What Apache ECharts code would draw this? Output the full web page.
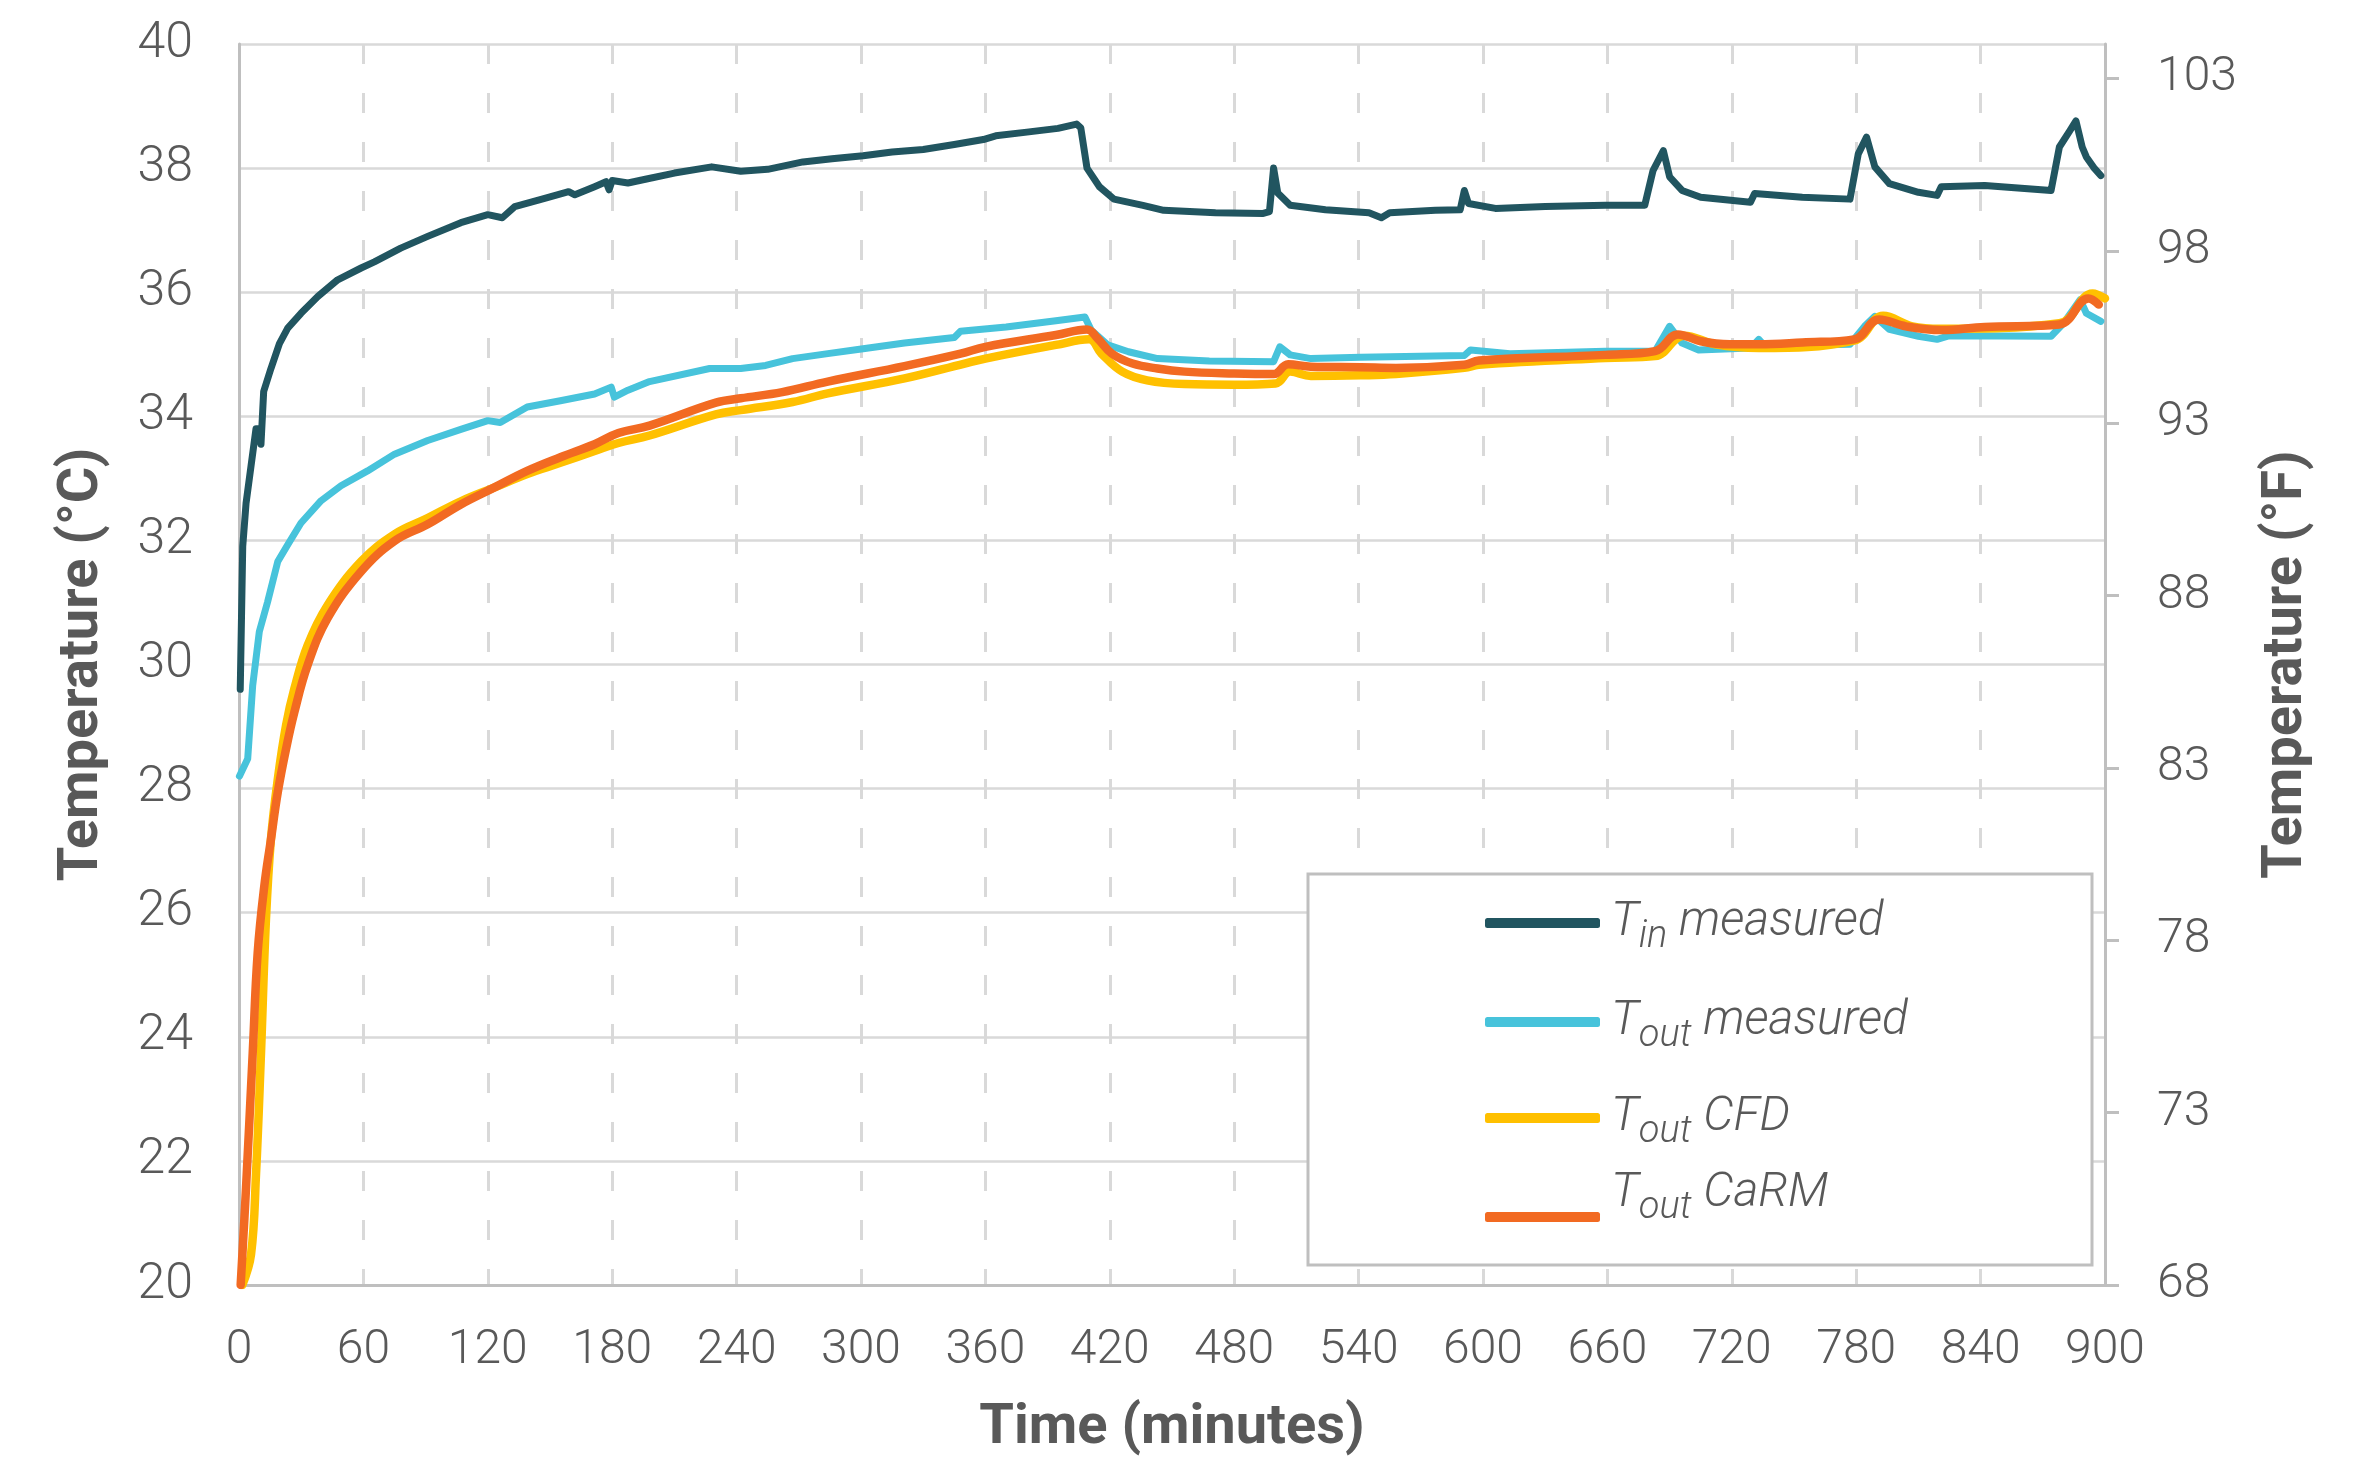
<!DOCTYPE html>
<html>
<head>
<meta charset="utf-8">
<script src="https://cdn.jsdelivr.net/npm/echarts@6.0.0/dist/echarts.min.js"></script>
<style>
    html, body { margin: 0; padding: 0; background: #fff; }
    #chart { width: 2375px; height: 1457px; }
</style>
</head>
<body>
<div id="chart"></div>
<script>
    // values: [minutes, °C]
    var tinMeasured = [[0.6, 29.6], [1.8, 31.9], [3.4, 32.6], [5.8, 33.2], [8.2, 33.8], [9.5, 33.8], [10.6, 33.55], [11.9, 34.4],
        [15.4, 34.77], [19.5, 35.17], [23.5, 35.42], [29.9, 35.66], [38, 35.93], [47.6, 36.2], [58.9, 36.39], [65.3, 36.49],
        [78, 36.71], [91, 36.9], [107, 37.12], [120, 37.25], [127, 37.2], [133, 37.38], [147, 37.51], [159, 37.62], [162, 37.57],
        [171.5, 37.7], [177, 37.78], [178.5, 37.65], [180, 37.8], [187.6, 37.76], [196, 37.82], [210, 37.92], [228, 38.02],
        [242, 37.95], [255, 37.98], [272, 38.1], [286, 38.15], [301, 38.2], [315, 38.26], [330, 38.3], [345, 38.38], [359, 38.46],
        [365, 38.52], [380, 38.58], [395, 38.64], [404, 38.71], [406, 38.65], [409, 38.0], [415, 37.7], [422, 37.5], [436, 37.4],
        [446, 37.32], [471, 37.28], [494, 37.27], [497, 37.3], [499, 38.0], [501, 37.6], [507, 37.4], [524, 37.33], [545, 37.28],
        [551, 37.2], [555, 37.28], [577, 37.32], [589, 37.33], [591, 37.64], [593, 37.43], [606, 37.35], [630, 37.38], [659, 37.4],
        [678, 37.4], [682, 37.96], [687, 38.28], [690, 37.86], [696, 37.64], [705, 37.53], [729, 37.45], [731, 37.59], [754, 37.53],
        [777, 37.5], [781, 38.23], [785, 38.5], [789, 38.02], [796, 37.75], [810, 37.61], [819, 37.56], [821, 37.7], [842, 37.72],
        [874, 37.64], [878, 38.34], [883, 38.6], [886, 38.76], [889, 38.34], [891, 38.18], [895, 37.99], [898, 37.88]];

    var toutMeasured = [[0.2, 28.2], [4.2, 28.48], [6.6, 29.66], [9.8, 30.53], [13.8, 31.01], [18.7, 31.66], [23.5, 31.93],
        [29.9, 32.28], [39.6, 32.64], [49.2, 32.88], [62, 33.12], [75, 33.39], [91, 33.61], [107, 33.79], [120, 33.93], [126, 33.9],
        [139, 34.15], [155, 34.25], [171.5, 34.36], [179.5, 34.47], [181, 34.31], [187.6, 34.42], [198, 34.56], [227, 34.77],
        [242, 34.77], [254, 34.82], [267, 34.93], [284, 35.01], [301, 35.09], [321, 35.18], [345, 35.27], [348, 35.37], [370, 35.44],
        [394, 35.54], [408, 35.6], [411, 35.39], [419, 35.15], [429, 35.04], [443, 34.93], [468, 34.89], [499, 34.88], [502, 35.12],
        [507, 34.99], [517, 34.93], [541, 34.95], [591, 34.98], [594, 35.07], [613, 35.01], [659, 35.05], [683, 35.05], [690, 35.45],
        [696, 35.18], [704, 35.07], [729, 35.1], [733, 35.24], [736, 35.13], [777, 35.16], [784, 35.45], [789, 35.61], [796, 35.4],
        [810, 35.29], [819, 35.24], [825, 35.3], [874, 35.29], [880, 35.5], [888, 35.88], [891, 35.66], [898, 35.53]];

    var toutCFD = [[1.6, 20.0], [5.8, 20.49], [8.2, 21.78], [10.6, 23.73], [13, 25.89], [15.4, 27.18], [18.7, 28.15], [22.7, 29.02],
        [26.7, 29.61], [33.1, 30.31], [42.8, 30.96], [58.9, 31.66], [75, 32.1], [91, 32.36], [107, 32.63], [123, 32.85], [139, 33.07],
        [155, 33.25], [171.5, 33.44], [183, 33.57], [198, 33.69], [230, 34.03], [242, 34.1], [267, 34.23], [284, 34.37], [321, 34.61],
        [350, 34.85], [360, 34.93], [394, 35.15], [410, 35.24], [416, 35.01], [426, 34.72], [438, 34.58], [456, 34.52], [480, 34.51],
        [500, 34.53], [507, 34.72], [517, 34.65], [541, 34.66], [558, 34.68], [591, 34.78], [598, 34.83], [659, 34.94], [683, 34.97],
        [697, 35.3], [712, 35.16], [733, 35.1], [779, 35.22], [793, 35.62], [807, 35.45], [821, 35.41], [878, 35.5], [894, 35.98],
        [900, 35.9]];

    var toutCaRM = [[0.8, 20.0], [3.4, 21.57], [6.6, 23.73], [9, 25.35], [12.2, 26.43], [15.4, 27.18], [18.7, 27.94], [22.7, 28.64],
        [26.7, 29.23], [33.1, 29.99], [42.8, 30.75], [58.9, 31.5], [75, 31.99], [91, 32.26], [107, 32.58], [123, 32.85], [139, 33.12],
        [155, 33.34], [171.5, 33.55], [183, 33.73], [198, 33.85], [230, 34.22], [242, 34.29], [262, 34.39], [284, 34.56], [321, 34.81],
        [348, 35.01], [360, 35.12], [394, 35.31], [409, 35.4], [414, 35.26], [421, 35.01], [431, 34.85], [443, 34.77], [456, 34.72],
        [480, 34.69], [499, 34.68], [506, 34.84], [517, 34.8], [541, 34.79], [558, 34.78], [591, 34.83], [598, 34.9], [659, 34.99],
        [683, 35.05], [694, 35.32], [705, 35.21], [719, 35.16], [733, 35.16], [754, 35.19], [779, 35.24], [791, 35.56], [804, 35.45],
        [821, 35.39], [842, 35.44], [878, 35.48], [892, 35.9], [897, 35.8]];

    var fahrenheitTicks = [68, 73, 78, 83, 88, 93, 98, 103];
    var seriesNames = ['Tin measured', 'Tout measured', 'Tout CFD', 'Tout CaRM'];
    var legendLabels = {
        'Tin measured': '{a|T}{s|in}{t| measured}',
        'Tout measured': '{a|T}{s|out}{t| measured}',
        'Tout CFD': '{a|T}{s|out}{t| CFD}',
        'Tout CaRM': '{a2|T}{s2|out}{t2| CaRM}'
    };
    var colors = ['#215560', '#47c3db', '#ffc000', '#f26a22'];

    var textColor = '#595959';
    var font = 'Roboto';

    var richText = {
        a: {fontSize: 48, lineHeight: 56, fontStyle: 'italic', fontWeight: 300, color: textColor, fontFamily: font, padding: [0, 0, 0, 6]},
        t: {fontSize: 48, lineHeight: 56, fontStyle: 'italic', fontWeight: 300, color: textColor, fontFamily: font},
        s: {fontSize: 38, lineHeight: 38, fontStyle: 'italic', fontWeight: 300, color: textColor, fontFamily: font, padding: [28, 0, 0, 0]},
        a2: {fontSize: 48, lineHeight: 56, fontStyle: 'italic', fontWeight: 300, color: textColor, fontFamily: font, padding: [0, 0, 46, 6]},
        t2: {fontSize: 48, lineHeight: 56, fontStyle: 'italic', fontWeight: 300, color: textColor, fontFamily: font, padding: [0, 0, 46, 0]},
        s2: {fontSize: 38, lineHeight: 38, fontStyle: 'italic', fontWeight: 300, color: textColor, fontFamily: font, padding: [28, 0, 46, 0]}
    };

    // one legend per entry so the rows can sit where they do in the figure
    var legendTops = [890, 989, 1085, 1161];
    var legends = seriesNames.map(function (name, i) {
        return {
            data: [name],
            left: 1485,
            top: legendTops[i],
            orient: 'vertical',
            itemWidth: 115,
            itemHeight: 10,
            icon: 'roundRect',
            selectedMode: false,
            padding: 0,
            formatter: function (n) { return legendLabels[n]; },
            textStyle: {rich: richText}
        };
    });

    function lineSeries(name, data, color, width, smooth) {
        return {
            name: name,
            type: 'line',
            data: data,
            showSymbol: false,
            symbol: 'none',
            smooth: smooth,
            lineStyle: {color: color, width: width, cap: 'round', join: 'round'},
            itemStyle: {color: color},
            z: 5
        };
    }

    var chart = echarts.init(document.getElementById('chart'));
    var option = {
        animation: false,
        backgroundColor: '#fff',
        grid: {left: 239, right: 270, top: 44, bottom: 172, containLabel: false, outerBoundsMode: 'none'},
        legend: legends,
        graphic: [{
            type: 'rect',
            z: 3,
            shape: {x: 1308, y: 874, width: 784, height: 391},
            style: {fill: '#fff', stroke: '#bfbfbf', lineWidth: 3}
        }],
        xAxis: {
            type: 'value',
            min: 0,
            max: 900,
            interval: 60,
            name: 'Time (minutes)',
            nameLocation: 'middle',
            nameGap: 116,
            nameTextStyle: {fontSize: 56, fontWeight: 'bold', color: textColor, fontFamily: font},
            axisLine: {show: true, lineStyle: {color: '#bfbfbf', width: 3}},
            axisTick: {show: false},
            axisLabel: {fontSize: 48, fontWeight: 300, color: textColor, fontFamily: font, margin: 42},
            splitLine: {show: true, lineStyle: {color: '#d9d9d9', width: 3, type: [20, 29]}}
        },
        yAxis: [{
            type: 'value',
            min: 20,
            max: 40,
            interval: 2,
            position: 'left',
            name: 'Temperature (°C)',
            nameLocation: 'middle',
            nameRotate: 90,
            nameGap: 128,
            nameTextStyle: {fontSize: 56, fontWeight: 'bold', color: textColor, fontFamily: font},
            axisLine: {show: true, lineStyle: {color: '#bfbfbf', width: 3}},
            axisTick: {show: false},
            axisLabel: {fontSize: 50, fontWeight: 300, color: textColor, fontFamily: font, margin: 46},
            splitLine: {show: true, lineStyle: {color: '#d9d9d9', width: 2.5}}
        }, {
            type: 'value',
            min: 68,
            max: 104,
            interval: 5,
            position: 'right',
            name: 'Temperature (°F)',
            nameLocation: 'middle',
            nameRotate: 90,
            nameGap: 154,
            nameTextStyle: {fontSize: 56, fontWeight: 'bold', color: textColor, fontFamily: font},
            axisLine: {show: true, lineStyle: {color: '#bfbfbf', width: 3}},
            axisTick: {show: true, length: 14, customValues: fahrenheitTicks, lineStyle: {color: '#bfbfbf', width: 3}},
            axisLabel: {fontSize: 48, fontWeight: 300, color: textColor, fontFamily: font, margin: 52, customValues: fahrenheitTicks},
            splitLine: {show: false}
        }],
        series: [
            lineSeries(seriesNames[0], tinMeasured, colors[0], 7, false),
            lineSeries(seriesNames[1], toutMeasured, colors[1], 7, false),
            lineSeries(seriesNames[2], toutCFD, colors[2], 8.5, 0.4),
            lineSeries(seriesNames[3], toutCaRM, colors[3], 8.5, 0.4)
        ]
    };
    chart.setOption(option);
</script>
</body>
</html>
